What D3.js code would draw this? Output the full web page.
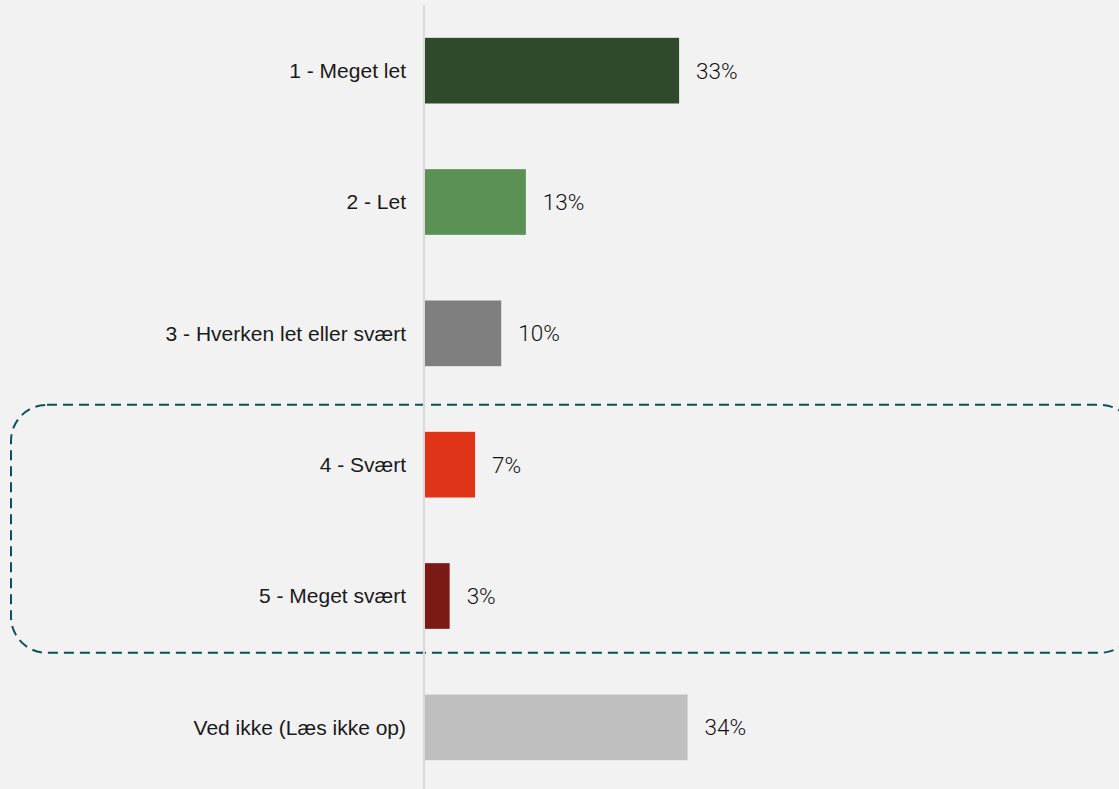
<!DOCTYPE html>
<html>
<head>
<meta charset="utf-8">
<script src="https://cdn.jsdelivr.net/npm/d3@7"></script>
<style>
  html, body { margin: 0; padding: 0; background: #f2f2f2; }
  svg { display: block; }
</style>
</head>
<body>
<div id="chart"></div>
<script>
var categories = ["1 - Meget let", "2 - Let", "3 - Hverken let eller svært", "4 - Svært", "5 - Meget svært", "Ved ikke (Læs ikke op)"],
	// unrounded shares; labels show the rounded ones
	values = [33.0, 13.1, 9.9, 6.5, 3.2, 34.1],
	barColors = ["#2e4a2b", "#5c9155", "#7f7f7f", "#e03418", "#7b1914", "#bfbfbf"],
	valueLabels = ["33%", "13%", "10%", "7%", "3%", "34%"];

var width = 1119, height = 789;

var svg = d3.select("#chart").append("svg")
	.attr("width", width)
	.attr("height", height);

svg.append("rect")
	.attr("width", width)
	.attr("height", height)
	.attr("fill", "#f2f2f2");

// 7.7px per percentage point, axis at x=425
var x = d3.scaleLinear().domain([0, 100]).range([425, 425 + 770]);
var y = d3.scaleBand().domain(categories).range([5, 793]).paddingInner(0.5).paddingOuter(0.25);

// dashed highlight around the "svært" answers
var y4 = y(categories[3]), y5 = y(categories[4]);
svg.append("rect")
	.attr("x", 11)
	.attr("y", y4 - 27)
	.attr("width", 1125)
	.attr("height", (y5 + y.bandwidth() + 24) - (y4 - 27))
	.attr("rx", 36)
	.attr("ry", 36)
	.attr("fill", "none")
	.attr("stroke", "#0e5256")
	.attr("stroke-width", 2)
	.attr("stroke-dasharray", "10,6");

// bars
svg.selectAll("rect.bar")
	.data(values)
	.enter()
	.append("rect")
	.attr("class", "bar")
	.attr("x", x(0))
	.attr("y", function (d, i) { return y(categories[i]); })
	.attr("width", function (d) { return x(d) - x(0); })
	.attr("height", y.bandwidth())
	.attr("fill", function (d, i) { return barColors[i]; });

// vertical axis line
svg.append("line")
	.attr("x1", 424).attr("x2", 424)
	.attr("y1", 5).attr("y2", height)
	.attr("stroke", "#d9d9d9")
	.attr("stroke-width", 2);

// category labels
svg.selectAll("text.cat")
	.data(categories)
	.enter()
	.append("text")
	.attr("class", "cat")
	.attr("x", 406)
	.attr("y", function (d) { return y(d) + y.bandwidth() / 2; })
	.attr("dy", "0.35em")
	.attr("text-anchor", "end")
	.style("font-family", "'Liberation Sans', Arial, sans-serif")
	.style("font-size", "21px")
	.style("fill", "#1a1a1a")
	.text(function (d) { return d; });

// value labels
svg.selectAll("text.val")
	.data(values)
	.enter()
	.append("text")
	.attr("class", "val")
	.attr("x", function (d) { return x(d) + 17; })
	.attr("y", function (d, i) { return y(categories[i]) + y.bandwidth() / 2; })
	.attr("dy", "0.36em")
	.style("font-family", "Roboto, 'DejaVu Sans', sans-serif")
	.style("font-weight", "300")
	.style("font-size", "22.5px")
	.style("fill", "#111")
	.text(function (d, i) { return valueLabels[i]; });
</script>
</body>
</html>
